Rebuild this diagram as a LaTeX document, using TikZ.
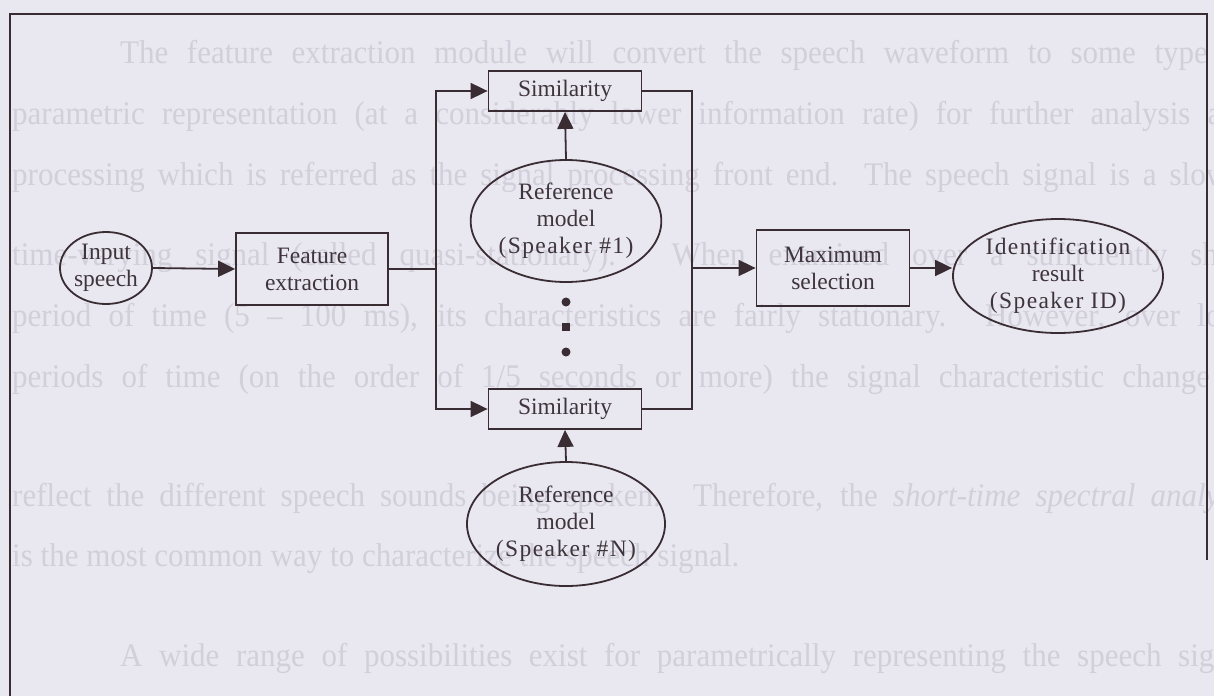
\documentclass[tikz,border=0pt]{standalone}
\usepackage{fontspec}
\setmainfont{Liberation Serif}
\usetikzlibrary{shapes.geometric,arrows.meta}
\definecolor{paper}{HTML}{E9E8F1}
\definecolor{ink}{HTML}{3A2C33}
\definecolor{inktext}{HTML}{3F343B}
\definecolor{ghost}{HTML}{D1CFDA}

\newcommand{\wide}[1]{{\addfontfeature{LetterSpace=6}#1}}
% a justified line of the page text: set narrow, spread to the given width
\newcommand{\pageline}[2]{\scalebox{0.94}[1]{\makebox[\dimexpr #1pt*100/94\relax][s]{#2}}}
\newcommand{\lastline}[1]{\scalebox{0.94}[1]{#1}}

\tikzset{
  blk/.style={draw=ink, line width=1.8pt, rectangle, align=center,
    text=inktext, font=\fontsize{23.5}{27}\selectfont},
  ell/.style={draw=ink, line width=1.8pt, ellipse, inner sep=0pt, align=center,
    text=inktext, font=\fontsize{23.5}{27}\selectfont},
  conn/.style={draw=ink, line width=1.8pt},
  flow/.style={conn, -{Triangle[length=17pt, width=16pt]}},
  pagetext/.style={anchor=base west, inner sep=0pt, text=ghost,
    font=\fontsize{33}{36}\selectfont},
}

\begin{document}
\begin{tikzpicture}[x=1pt, y=-1pt]
\fill[paper] (0,0) rectangle (1214,696);
\useasboundingbox (0,0) rectangle (1214,696);

% text of the page underneath the figure
\begin{scope}
\clip (0,0) rectangle (1214,696);
\node[pagetext] (p1) at (120,63) {\pageline{1132}{The feature extraction module will convert the speech waveform to some type of}};
\node[pagetext] (p2) at (12,124) {\pageline{1240}{parametric representation (at a considerably lower information rate) for further analysis and}};
\node[pagetext] (p3) at (12,185) {\pageline{1240}{processing which is referred as the signal processing front end. The speech signal is a slowly}};
\node[pagetext] (p4) at (12,265) {\pageline{1240}{time-varying signal (called quasi-stationary). When examined over a sufficiently short}};
\node[pagetext] (p5) at (12,326) {\pageline{1240}{period of time (5 -- 100 ms), its characteristics are fairly stationary. However, over long}};
\node[pagetext] (p6) at (12,387) {\pageline{1240}{periods of time (on the order of 1/5 seconds or more) the signal characteristic change to}};
\node[pagetext] (p7) at (12,506) {\pageline{1240}{reflect the different speech sounds being spoken. Therefore, the \textit{short-time spectral analysis}}};
\node[pagetext] (p8) at (12,566) {\lastline{is the most common way to characterize the speech signal.}};
\node[pagetext] (p9) at (120,666) {\pageline{1132}{A wide range of possibilities exist for parametrically representing the speech signal}};
\end{scope}

% frame
\draw[ink, line width=1.4pt] (10,696) -- (10,14) -- (1207,14) -- (1207,560);

% blocks
\node[ell, minimum width=92pt, minimum height=72pt] (inp) at (106,268) {Input\\speech};
\node[blk, minimum width=152pt, minimum height=72pt] (fe) at (312,269) {Feature\\extraction};
\node[blk, minimum width=153pt, minimum height=40pt] (s1) at (565,91) {Similarity};
\node[ell, minimum width=160pt, minimum height=122pt] (r1) at (566,221) {Reference\\model\\\wide{(Speaker \#1)}};
\node[blk, minimum width=153pt, minimum height=40pt] (sn) at (565,409) {Similarity};
\node[ell, minimum width=158pt, minimum height=124pt] (rn) at (566,524) {Reference\\model\\\wide{(Speaker \#N)}};
\node[blk, minimum width=153pt, minimum height=76pt] (ms) at (833,268) {Maximum\\selection};
\node[ell, minimum width=210pt, minimum height=114pt] (id) at (1058,276) {\wide{Identification}\\result\\\wide{(Speaker ID)}};

% the dots between the first and the last speaker
\fill[ink] (566,302) circle (4.5pt);
\fill[ink] (562,323) rectangle (570,331);
\fill[ink] (566,352) circle (4.5pt);

% bus junction points
\coordinate (busL) at (436,269);
\coordinate (busR) at (692,268);

% connectors
\draw[flow] (inp.east) -- (fe.west);
\draw[conn] (fe.east) -- (busL);
\draw[flow] (busL) |- (s1.west);
\draw[flow] (busL) |- (sn.west);
\draw[flow] (r1.north) -- (s1.south);
\draw[flow] (rn.north) -- (sn.south);
\draw[conn] (s1.east) -| (busR);
\draw[conn] (sn.east) -| (busR);
\draw[flow] (busR) -- (ms.west);
\draw[flow] (ms.east) -- (ms.east -| id.west);
\end{tikzpicture}
\end{document}
